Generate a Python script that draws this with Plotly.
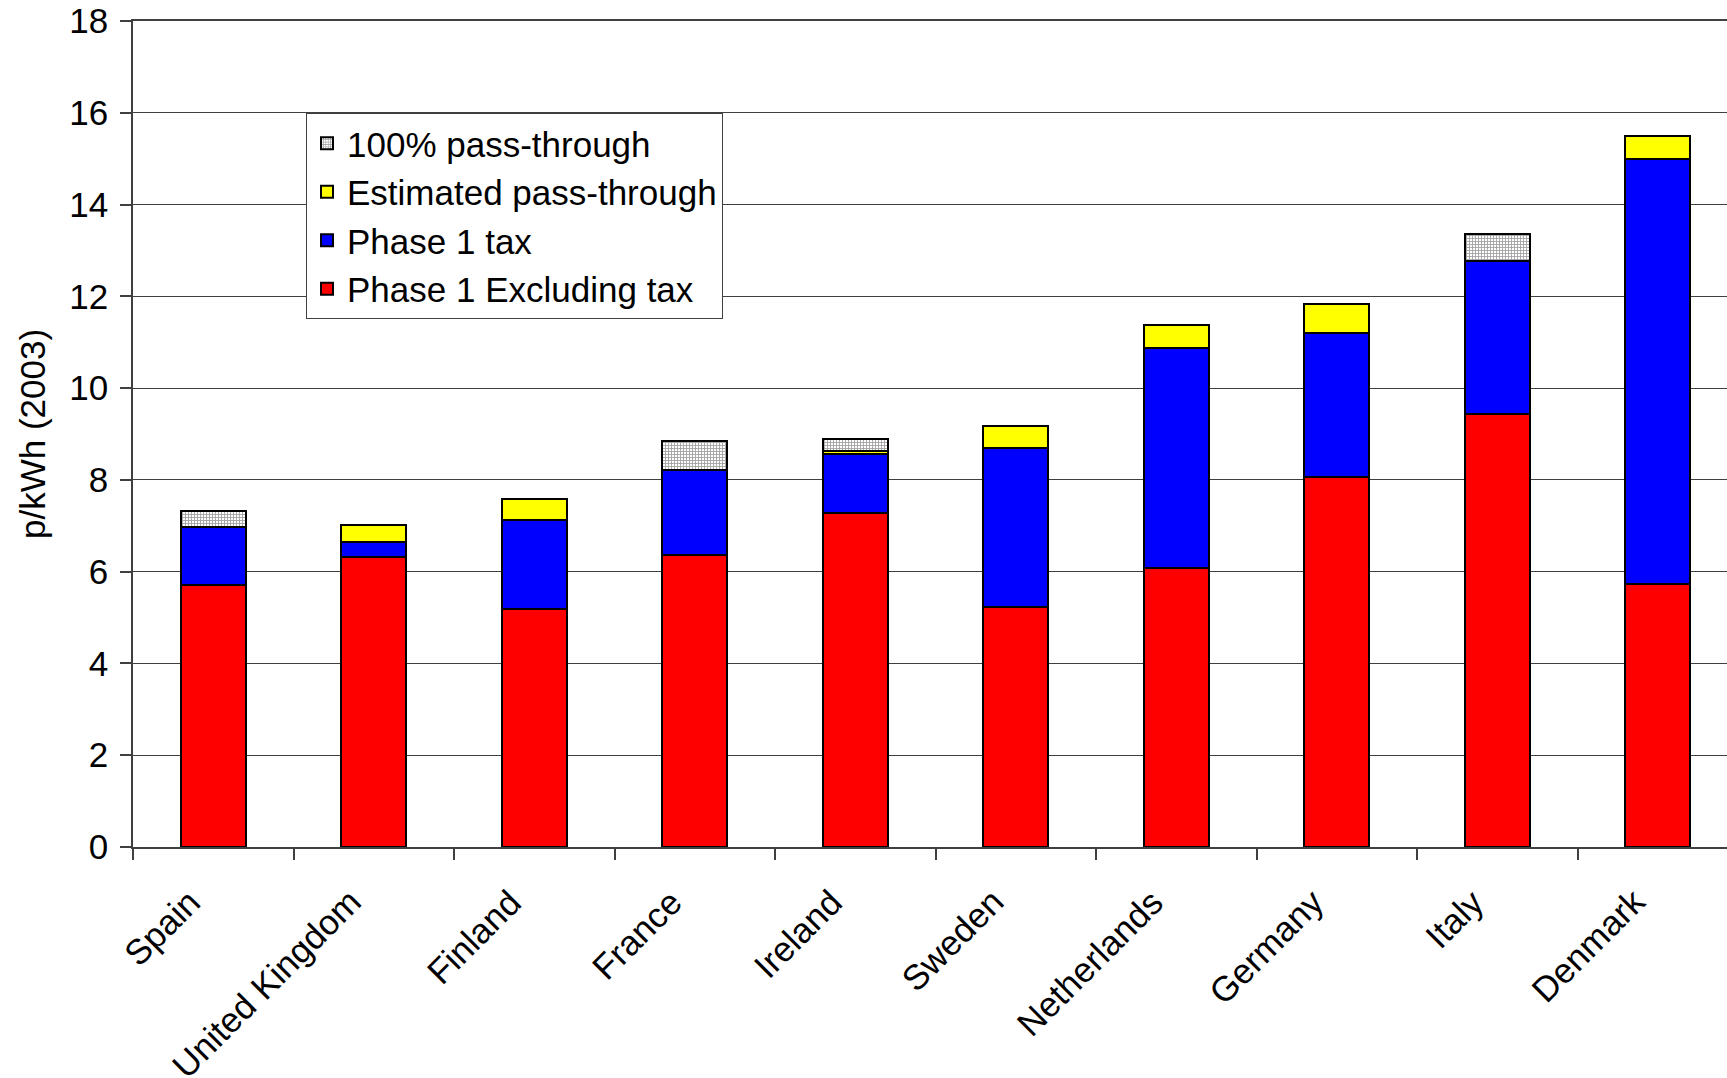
import plotly.graph_objects as go

# Electricity price components by country, p/kWh (2003 prices)
countries = ["Spain", "United Kingdom", "Finland", "France", "Ireland",
             "Sweden", "Netherlands", "Germany", "Italy", "Denmark"]
excl_tax = [5.72, 6.31, 5.18, 6.37, 7.28, 5.23, 6.09, 8.07, 9.43, 5.74]
phase1_tax = [1.26, 0.33, 1.94, 1.85, 1.28, 3.47, 4.78, 3.13, 3.35, 9.26]
estimated_pt = [0.0, 0.37, 0.47, 0.0, 0.07, 0.48, 0.50, 0.63, 0.0, 0.49]
full_pt = [0.35, 0.0, 0.0, 0.63, 0.27, 0.0, 0.0, 0.0, 0.58, 0.0]

y_ticks = [0, 2, 4, 6, 8, 10, 12, 14, 16, 18]

FONT = "Arial, Liberation Sans, sans-serif"
OUTLINE = dict(color="black", width=2)
BAR_W = 0.405

fig = go.Figure()
fig.add_trace(go.Bar(x=countries, y=excl_tax, name="Phase 1 Excluding tax",
                     legendgroup="a", width=BAR_W,
                     marker=dict(color="#FF0000", line=OUTLINE)))
fig.add_trace(go.Bar(x=countries, y=phase1_tax, name="Phase 1 tax",
                     legendgroup="b", width=BAR_W,
                     marker=dict(color="#0000FF", line=OUTLINE)))
fig.add_trace(go.Bar(x=countries, y=estimated_pt, name="Estimated pass-through",
                     legendgroup="c", width=BAR_W,
                     marker=dict(color="#FFFF00", line=OUTLINE)))
fig.add_trace(go.Bar(x=countries, y=full_pt, name="100% pass-through",
                     legendgroup="d", width=BAR_W,
                     marker=dict(color="white", line=OUTLINE,
                                 pattern=dict(shape="+", size=3, solidity=0.5,
                                              fgcolor="#444444", bgcolor="white",
                                              fillmode="overlay"))))

plot_left = 133
plot_w = 1727 - plot_left
cat_px = 160.5

# Rotated category labels, right/top anchored just below each category
label_notes = [dict(
    text=c, x=c, xref="x", y=0, yref="paper",
    xanchor="right", yanchor="top", textangle=-45,
    xshift=-3, yshift=-32, showarrow=False,
    font=dict(family=FONT, size=35, color="black"),
) for c in countries]

fig.update_layout(
    width=1727, height=1078,
    margin=dict(l=plot_left, r=0, t=21, b=231),
    barmode="stack",
    paper_bgcolor="white", plot_bgcolor="white",
    font=dict(family=FONT, size=35, color="black"),
    showlegend=True,
    legend=dict(
        traceorder="reversed", tracegroupgap=4,
        x=(306 - plot_left) / plot_w, y=(846.7 - 113) / 825.7,
        xanchor="left", yanchor="top",
        bgcolor="white", bordercolor="#404040", borderwidth=1,
        font=dict(family=FONT, size=35, color="black"),
    ),
    xaxis=dict(
        range=[-0.5, -0.5 + plot_w / cat_px],
        tickson="boundaries", ticks="outside", ticklen=11, tickwidth=1.5,
        tickcolor="#404040", showticklabels=False,
        showline=True, mirror=True, linecolor="#404040", linewidth=1.5,
        showgrid=False,
    ),
    yaxis=dict(
        range=[0, 18], tickvals=y_ticks,
        ticks="outside", ticklen=11, tickwidth=1.5, tickcolor="#404040",
        showline=True, linecolor="#404040", linewidth=1.5,
        showgrid=True, gridcolor="#404040", gridwidth=1,
        zeroline=False, ticklabelstandoff=5,
        tickfont=dict(family=FONT, size=35, color="black"),
    ),
    annotations=label_notes + [dict(
        text="p/kWh (2003)", textangle=-90,
        xref="paper", yref="paper", x=0, y=0.5,
        xanchor="center", yanchor="middle", xshift=-(plot_left - 32),
        showarrow=False, font=dict(family=FONT, size=35, color="black"),
    )],
)

fig.write_html("out.html")
